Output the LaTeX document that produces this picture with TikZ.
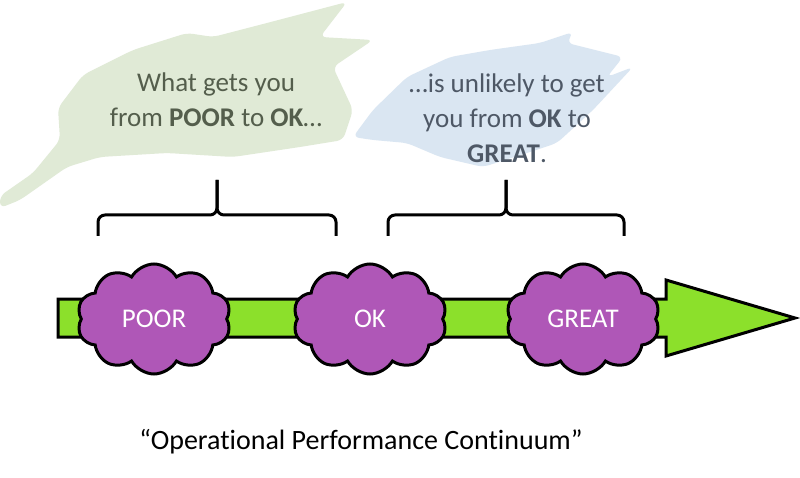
\documentclass[tikz,border=0pt]{standalone}
\usepackage{fontspec}
\setmainfont{Carlito}[Ligatures={NoCommon,NoRare}]
\usetikzlibrary{shapes.symbols}
\definecolor{cloudpurple}{HTML}{AF57B7}
\definecolor{arrowgreen}{HTML}{8CE02B}
\definecolor{brushgreen}{HTML}{E0EAD6}
\definecolor{brushblue}{HTML}{DAE6F2}
\definecolor{textgreen}{HTML}{545E4C}
\definecolor{textblue}{HTML}{4E5866}
\begin{document}
\begin{tikzpicture}[x=1pt,y=-1pt,
  cloudnode/.style={cloud, cloud puffs=10, cloud puff arc=120, cloud ignores aspect,
    minimum width=154pt, minimum height=110pt, draw=black, line width=3pt,
    fill=cloudpurple, text=white, font=\fontsize{27}{30}\selectfont, inner sep=0pt},
  braceline/.style={draw=black, line width=3pt, rounded corners=7pt},
  arrowbody/.style={draw=black, line width=3pt, fill=arrowgreen, line join=miter},
  brushstyle/.style={rounded corners=6pt},
  caption/.style={align=center, font=\fontsize{27}{35}\selectfont}
]
\useasboundingbox (0,0) rectangle (800,478);
\fill[white] (0,0) rectangle (800,478);

% brush strokes
\fill[brushgreen, brushstyle] (60,140) -- (58,108) -- (83,75) -- (133,50) -- (187,33) -- (213,37)
  -- (267,23) -- (347,2) -- (320,37) -- (373,40) -- (333,67) -- (353,110) -- (343,140)
  -- (300,147) -- (233,157) -- (167,153) -- (100,157) -- (67,167) -- (20,200) -- (0,208)
  -- (0,196) -- (33,173) -- cycle;
\fill[brushblue, brushstyle] (353,137) -- (373,110) -- (407,77) -- (450,57) -- (490,50)
  -- (540,43) -- (573,32) -- (567,43) -- (623,57) -- (607,77) -- (633,67) -- (593,110)
  -- (557,143) -- (527,153) -- (483,167) -- (440,157) -- (407,143) -- (373,140) -- cycle;

% captions
\node[caption, text=textgreen] (lefttext) at (216,100)
  {What gets you\\from \textbf{POOR} to \textbf{OK}…};
\node[caption, text=textblue] (righttext) at (507,118)
  {…is unlikely to get\\you from \textbf{OK} to\\\textbf{GREAT}.};

% braces
\coordinate (lbl) at (98,236);
\coordinate (lbr) at (336,236);
\coordinate (lbm) at (217,215);
\coordinate (lbt) at (217,180);
\draw[braceline] (lbl) |- (lbm) -- (lbt);
\draw[braceline] (lbr) |- (lbm) -- (lbt);
\coordinate (rbl) at (388,236);
\coordinate (rbr) at (624,236);
\coordinate (rbm) at (506,215);
\coordinate (rbt) at (506,180);
\draw[braceline] (rbl) |- (rbm) -- (rbt);
\draw[braceline] (rbr) |- (rbm) -- (rbt);

% arrow
\coordinate (a1) at (58,299);
\coordinate (a2) at (666,299);
\coordinate (a3) at (666,280);
\coordinate (tip) at (795,318);
\coordinate (a5) at (666,356);
\coordinate (a6) at (666,337);
\coordinate (a7) at (58,337);
\draw[arrowbody] (a1) -- (a2) -- (a3) -- (tip) -- (a5) -- (a6) -- (a7) -- cycle;

% clouds
\node[cloudnode] (poor) at (154,319) {POOR};
\node[cloudnode] (ok) at (370,319) {OK};
\node[cloudnode] (great) at (583,319) {GREAT};

% bottom caption
\node[font=\fontsize{28}{32}\selectfont, text=black] (title) at (361,442)
  {“Operational Performance Continuum”};
\end{tikzpicture}
\end{document}
